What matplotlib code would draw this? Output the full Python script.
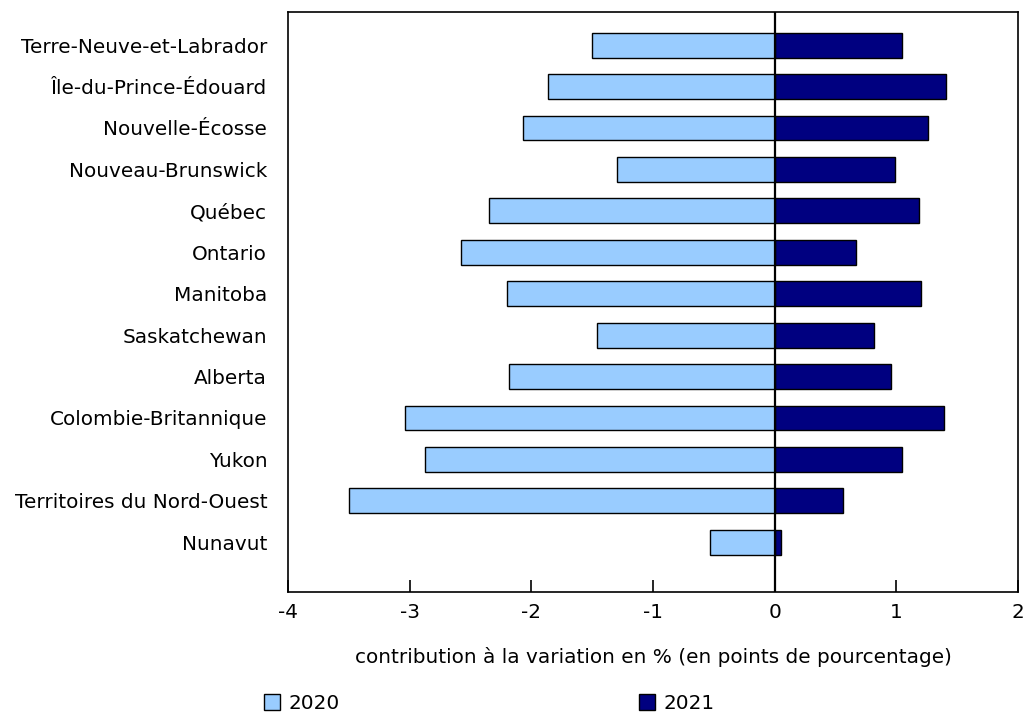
import matplotlib
matplotlib.use("Agg")
import matplotlib.pyplot as plt
from matplotlib.patches import Patch
import numpy as np

regions = ["Terre-Neuve-et-Labrador", "Île-du-Prince-Édouard", "Nouvelle-Écosse",
           "Nouveau-Brunswick", "Québec", "Ontario", "Manitoba", "Saskatchewan",
           "Alberta", "Colombie-Britannique", "Yukon", "Territoires du Nord-Ouest", "Nunavut"]
v2020 = [-1.50, -1.86, -2.07, -1.30, -2.35, -2.58, -2.20, -1.46, -2.18, -3.04, -2.87, -3.50, -0.53]
v2021 = [1.05, 1.41, 1.26, 0.99, 1.19, 0.67, 1.20, 0.82, 0.96, 1.39, 1.05, 0.56, 0.05]
series_labels = ["2020", "2021"]
xticks = [-4, -3, -2, -1, 0, 1, 2]
xlabel = "contribution à la variation en % (en points de pourcentage)"

c2020 = "#99CCFF"
c2021 = "#000080"

plt.rcParams['font.family'] = ['DejaVu Sans']
fs = 14.4

fig = plt.figure(figsize=(10.24, 7.12), dpi=100)
ax = fig.add_axes([288/1024, 1 - 591.5/712, (1018-288)/1024, (591.5-12)/712])

y = np.arange(len(regions))
ax.barh(y, v2020, height=0.6, color=c2020, edgecolor="black", linewidth=1.0)
ax.barh(y, v2021, height=0.6, color=c2021, edgecolor="black", linewidth=1.0)
ax.axvline(0, color="black", linewidth=1.6, zorder=5)

ax.set_xlim(-4, 2)
ax.set_ylim(len(regions) - 1 + 1.19, -0.80)
ax.set_xticks(xticks)
ax.set_xticklabels([str(t) for t in xticks], fontsize=fs)
ax.set_yticks(y)
ax.set_yticklabels(regions, fontsize=fs)
ax.tick_params(axis='x', direction='in', length=9, width=1.2, pad=8, colors='black')
ax.tick_params(axis='y', length=0, pad=15)
for s in ax.spines.values():
    s.set_linewidth(1.2)
ax.set_xlabel(xlabel, fontsize=fs, labelpad=18)

handles = [Patch(facecolor=c2020, edgecolor="black", linewidth=1.0),
           Patch(facecolor=c2021, edgecolor="black", linewidth=1.0)]
fig.legend(handles, series_labels, loc="lower left", ncol=2, frameon=False,
           bbox_to_anchor=(246/1024, -0.026), fontsize=fs,
           handlelength=0.8, handleheight=0.85, handletextpad=0.4, columnspacing=15.0)

fig.savefig("out.png", dpi=100)
